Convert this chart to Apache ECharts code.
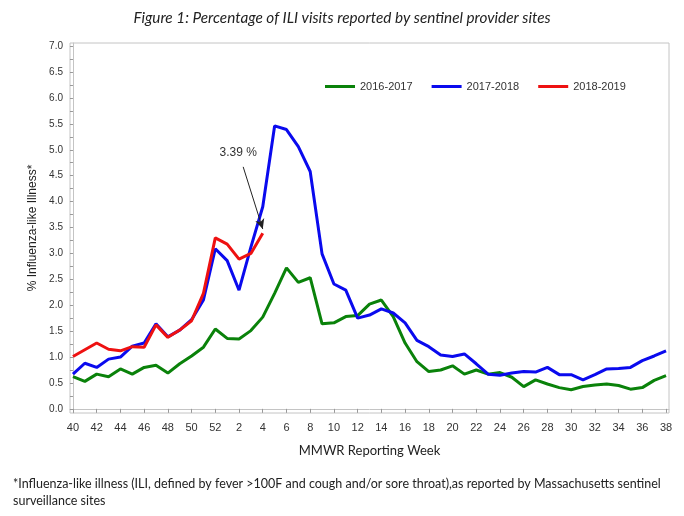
<!DOCTYPE html>
<html>
<head>
<meta charset="utf-8">
<script src="https://cdn.jsdelivr.net/npm/echarts@6/dist/echarts.min.js"></script>
<style>
  html, body { margin: 0; padding: 0; background: #fff; }
  #chart { width: 684px; height: 516px; }
</style>
</head>
<body>
<div id="chart"></div>
<script>
// MMWR weeks, season starts at week 40
const weeks = [40, 41, 42, 43, 44, 45, 46, 47, 48, 49, 50, 51, 52,
  1, 2, 3, 4, 5, 6, 7, 8, 9, 10, 11, 12, 13, 14, 15, 16, 17, 18, 19, 20,
  21, 22, 23, 24, 25, 26, 27, 28, 29, 30, 31, 32, 33, 34, 35, 36, 37, 38];

const season1617 = [0.62, 0.53, 0.67, 0.62, 0.77, 0.67, 0.80, 0.84, 0.69, 0.87,
  1.02, 1.19, 1.54, 1.36, 1.35, 1.51, 1.77, 2.23, 2.72, 2.44, 2.53, 1.64, 1.66,
  1.78, 1.80, 2.02, 2.10, 1.78, 1.27, 0.91, 0.72, 0.75, 0.83, 0.67, 0.75, 0.67,
  0.70, 0.61, 0.43, 0.56, 0.48, 0.41, 0.37, 0.43, 0.46, 0.48, 0.45, 0.38, 0.41,
  0.55, 0.64];

const season1718 = [0.67, 0.88, 0.80, 0.96, 1.00, 1.21, 1.27, 1.64, 1.39, 1.52,
  1.72, 2.10, 3.09, 2.86, 2.29, 3.12, 3.90, 5.46, 5.39, 5.06, 4.58, 2.99, 2.41,
  2.29, 1.75, 1.81, 1.93, 1.85, 1.66, 1.32, 1.20, 1.04, 1.01, 1.06, 0.87, 0.67,
  0.65, 0.69, 0.72, 0.71, 0.80, 0.66, 0.66, 0.56, 0.66, 0.77, 0.78, 0.80, 0.93,
  1.02, 1.12];

const season1819 = [1.01, 1.14, 1.27, 1.15, 1.12, 1.20, 1.19, 1.62, 1.38, 1.52,
  1.70, 2.23, 3.30, 3.18, 2.89, 3.00, 3.39];

const yTicks = [0, 0.5, 1, 1.5, 2, 2.5, 3, 3.5, 4, 4.5, 5, 5.5, 6, 6.5, 7];
const yMinorTicks = [0, 0.25, 0.5, 0.75, 1, 1.25, 1.5, 1.75, 2, 2.25, 2.5, 2.75,
  3, 3.25, 3.5, 3.75, 4, 4.25, 4.5, 4.75, 5, 5.25, 5.5, 5.75, 6, 6.25, 6.5, 6.75, 7];
const xTicks = [0, 2, 4, 6, 8, 10, 12, 14, 16, 18, 20, 22, 24, 26, 28, 30, 32,
  34, 36, 38, 40, 42, 44, 46, 48, 50];

// pair each value with its position in the season
const toPoints = (values) => values.map((v, i) => [i, v]);

const AXIS_FONT = 'Liberation Sans, Arial, sans-serif';
const TEXT_FONT = 'Lato, Noto Sans, sans-serif';

const chart = echarts.init(document.getElementById('chart'));

const lineSeries = (name, color, values) => ({
  name: name,
  type: 'line',
  data: toPoints(values),
  showSymbol: false,
  symbol: 'none',
  lineStyle: { color: color, width: 3 },
  itemStyle: { color: color },
  z: 3
});

const red = lineSeries('2018-2019', '#ee1111', season1819);
red.z = 4;
// callout for the latest week
red.markLine = {
  silent: true,
  symbol: ['none', 'arrow'],
  symbolSize: [7, 10],
  label: { show: false },
  lineStyle: { color: '#222', width: 1, type: 'solid' },
  data: [[{ coord: [14.35, 4.67] }, { coord: [16.0, 3.47] }]]
};
red.markPoint = {
  silent: true,
  symbol: 'circle',
  symbolSize: 0,
  label: {
    show: true,
    formatter: '3.39 %',
    color: '#333',
    fontFamily: AXIS_FONT,
    fontSize: 12
  },
  data: [{ coord: [13.93, 4.94] }]
};

chart.setOption({
  animation: false,
  title: [
    {
      text: 'Figure 1: Percentage of ILI visits reported by sentinel provider sites',
      left: 'center',
      top: 6,
      textStyle: {
        fontFamily: TEXT_FONT,
        fontStyle: 'italic',
        fontWeight: 'normal',
        fontSize: 15.3,
        color: '#222'
      }
    },
    {
      text: '*Influenza-like illness (ILI, defined by fever >100F and cough and/or sore throat),as reported by Massachusetts sentinel\nsurveillance sites',
      left: 8,
      top: 470,
      textStyle: {
        fontFamily: TEXT_FONT,
        fontWeight: 'normal',
        fontSize: 12.5,
        lineHeight: 17,
        color: '#222'
      }
    }
  ],
  legend: {
    left: 320,
    top: 76,
    icon: 'rect',
    itemWidth: 30,
    itemHeight: 3,
    itemGap: 19,
    textStyle: { fontFamily: AXIS_FONT, fontSize: 11, color: '#333' },
    data: ['2016-2017', '2017-2018', '2018-2019']
  },
  grid: {
    left: 70,
    right: 15,
    top: 43,
    bottom: 103,
    show: true,
    borderColor: '#c4c4c4',
    borderWidth: 1
  },
  xAxis: {
    type: 'value',
    min: -0.25,
    max: 50.25,
    name: 'MMWR Reporting Week',
    nameLocation: 'middle',
    nameGap: 31,
    nameTextStyle: { fontFamily: TEXT_FONT, fontSize: 13, color: '#222' },
    splitLine: { show: false },
    axisLine: { show: true, lineStyle: { color: '#c4c4c4' } },
    axisTick: { show: true, customValues: xTicks, length: 4, lineStyle: { color: '#999' } },
    axisLabel: {
      customValues: xTicks,
      formatter: (v) => String(weeks[Math.round(v)]),
      fontFamily: AXIS_FONT,
      fontSize: 11,
      color: '#333',
      margin: 9
    }
  },
  yAxis: {
    type: 'value',
    min: -0.08,
    max: 7.06,
    name: '% Influenza-like Illness*',
    nameLocation: 'middle',
    nameRotate: 90,
    nameGap: 30,
    nameTextStyle: { fontFamily: AXIS_FONT, fontSize: 12, color: '#222' },
    splitLine: { show: false },
    axisLine: { show: true, lineStyle: { color: '#c4c4c4' } },
    axisTick: { show: true, customValues: yMinorTicks, length: 3, lineStyle: { color: '#999' } },
    axisLabel: {
      customValues: yTicks,
      formatter: (v) => v.toFixed(1),
      fontFamily: AXIS_FONT,
      fontSize: 10,
      color: '#333',
      margin: 7
    }
  },
  series: [
    lineSeries('2016-2017', '#0a820a', season1617),
    lineSeries('2017-2018', '#0a0aee', season1718),
    red
  ]
});
</script>
</body>
</html>
